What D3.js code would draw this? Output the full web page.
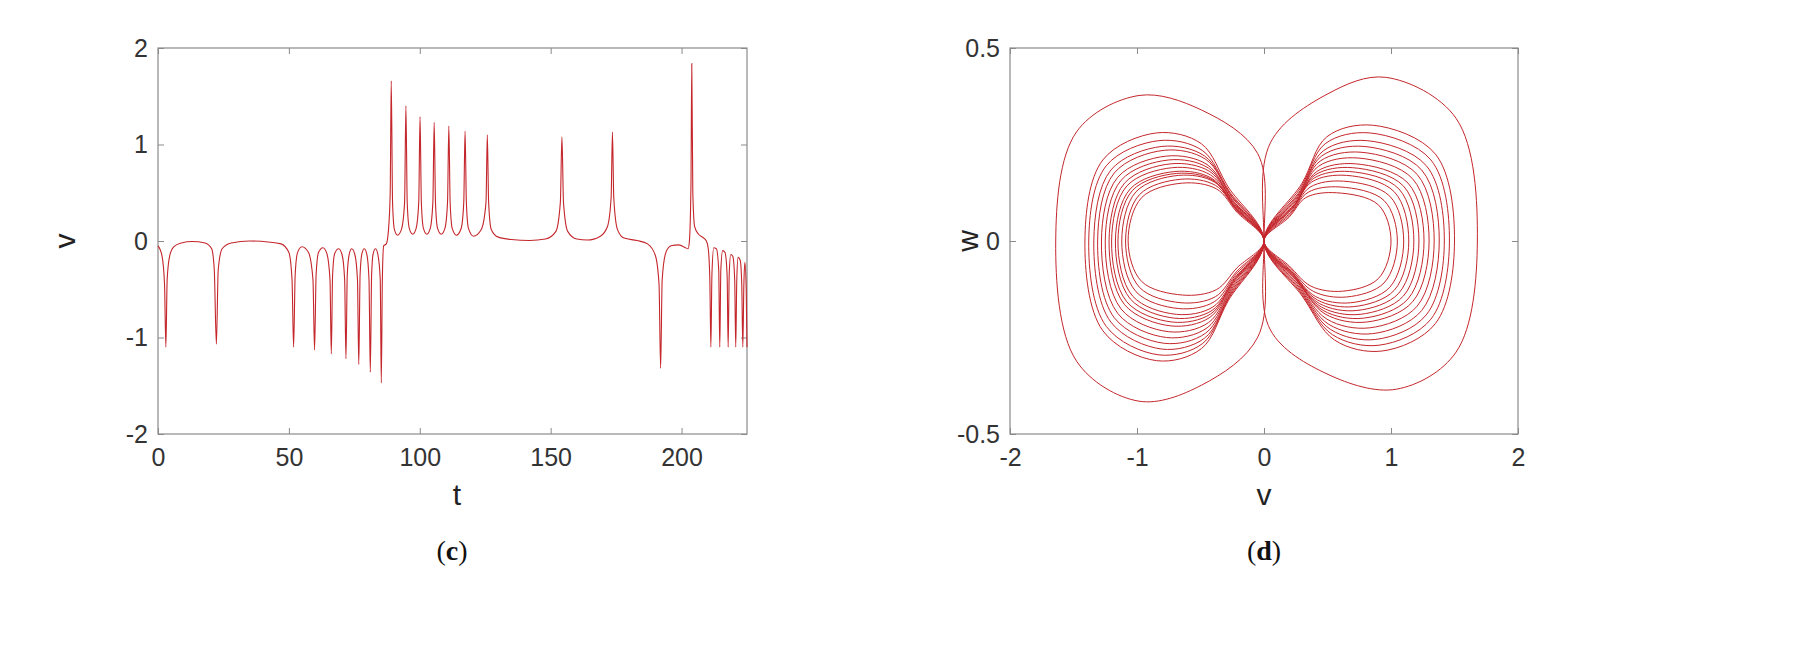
<!DOCTYPE html>
<html><head><meta charset="utf-8">
<script src="https://cdn.jsdelivr.net/npm/d3@7"></script>
<style>body{margin:0;background:#fff}</style></head>
<body><svg id="c" width="1800" height="671"></svg>
<script>
// Panel (c): time series v(t)
const tsT=[0,1.5,2.5,3,3.5,4.5,6,9,13,18,20.5,21.5,22.3,23,24.5,28,35,42,47,50,51.2,51.8,52.4,53.3,55,57.5,59.2,59.8,60.4,61.3,63,64.5,65.7,66.2,66.7,67.5,69,70.3,71.3,71.8,72.3,73.1,74,75.2,76.2,76.7,77.2,77.9,78.8,79.8,80.6,81.1,81.6,82.2,83.1,84,84.9,85.3,85.7,86.2,87.2,88,88.7,89.1,89.6,90.3,91.5,93,94.2,94.7,95.2,96,97.3,98.6,99.6,100.1,100.6,101.4,102.7,104,105,105.5,106,106.8,108.2,109.6,110.6,111.1,111.6,112.4,114,115.8,116.8,117.3,117.8,118.6,120.5,123.5,125.3,125.8,126.3,127.3,130,135,142,148,152,153.7,154.3,154.9,156.5,160,164,169,171.7,173.1,173.6,174.1,175.5,178,183,187,190,191.4,192,192.6,194,196,199,201.5,202.5,203,203.6,203.9,204.3,205,206.5,208,209.5,210.2,210.8,211.2,211.6,212.3,213.3,214.2,214.6,215,215.7,216.6,217.4,217.8,218.2,218.8,219.6,220.3,220.7,221.1,221.6,222.4,223,223.4,223.8,224.2,224.7,225];
const tsV=[-0.05,-0.15,-0.45,-1.1,-0.4,-0.15,-0.06,-0.02,-0.005,-0.02,-0.08,-0.3,-1.07,-0.3,-0.08,-0.02,0,-0.01,-0.03,-0.12,-0.4,-1.1,-0.35,-0.12,-0.06,-0.12,-0.4,-1.13,-0.35,-0.12,-0.07,-0.13,-0.4,-1.17,-0.35,-0.13,-0.08,-0.14,-0.4,-1.22,-0.35,-0.13,-0.08,-0.14,-0.4,-1.28,-0.35,-0.13,-0.08,-0.14,-0.4,-1.36,-0.35,-0.13,-0.08,-0.14,-0.4,-1.47,-0.4,-0.05,-0.03,0.1,0.5,1.66,0.4,0.12,0.06,0.12,0.4,1.4,0.4,0.13,0.07,0.13,0.4,1.29,0.4,0.13,0.07,0.13,0.4,1.23,0.4,0.13,0.07,0.13,0.4,1.19,0.4,0.13,0.06,0.13,0.4,1.14,0.4,0.13,0.05,0.12,0.4,1.1,0.4,0.12,0.04,0.015,0.005,0.02,0.1,0.4,1.08,0.4,0.1,0.02,0.01,0.05,0.15,0.45,1.13,0.45,0.12,0.03,0.005,-0.03,-0.15,-0.45,-1.32,-0.4,-0.12,-0.05,-0.04,-0.07,-0.08,0,0.6,1.84,0.5,0.15,0.07,0.04,0,-0.08,-0.4,-1.1,-0.35,-0.07,-0.08,-0.3,-1.1,-0.3,-0.1,-0.12,-0.35,-1.1,-0.35,-0.14,-0.16,-0.4,-1.1,-0.4,-0.17,-0.2,-0.45,-1.1,-0.45,-0.22,-0.5,-1.1];
const cXTicks=[0,50,100,150,200], cYTicks=[-2,-1,0,1,2];
// Panel (d): phase portrait lobes (extent, top w, bottom w)
const leftL=[-1.64,-1.41,-1.38,-1.34,-1.31,-1.28,-1.25,-1.22,-1.2,-1.17,-1.15,-1.12,-1.09,-1.07];
const leftTop=[0.377,0.28,0.26,0.245,0.235,0.22,0.21,0.2,0.19,0.18,0.175,0.17,0.16,0.15];
const leftBot=[-0.415,-0.31,-0.295,-0.28,-0.265,-0.25,-0.235,-0.22,-0.21,-0.2,-0.19,-0.175,-0.16,-0.14];
const rightR=[1.68,1.5,1.46,1.42,1.38,1.34,1.3,1.26,1.22,1.18,1.14,1.1,1.05,1.0];
const rightTop=[0.424,0.3,0.28,0.26,0.245,0.23,0.215,0.2,0.19,0.18,0.17,0.155,0.14,0.125];
const rightBot=[-0.384,-0.285,-0.27,-0.255,-0.24,-0.225,-0.21,-0.2,-0.19,-0.18,-0.17,-0.16,-0.145,-0.13];
const dXTicks=[-2,-1,0,1,2], dYTicks=[-0.5,0,0.5];

const svg=d3.select('#c');
const RED='#c4262b', AX='#8a8a8a', TXT='#333';
function frame(x,y,X,Y,xt,yt,xf,yf){
  const g=svg.append('g');
  const [x0,x1]=x.range(),[y0,y1]=y.range();
  g.append('rect').attr('x',x0).attr('y',y1).attr('width',x1-x0).attr('height',y0-y1).attr('fill','none').attr('stroke',AX).attr('stroke-width',1.2);
  const gx=g.append('g').attr('transform',`translate(0,${y0})`).call(d3.axisBottom(x).tickValues(xt).tickSize(-6).tickPadding(14).tickFormat(xf));
  const gy=g.append('g').attr('transform',`translate(${x0},0)`).call(d3.axisLeft(y).tickValues(yt).tickSize(-6).tickPadding(10).tickFormat(yf));
  g.append('g').attr('transform',`translate(0,${y1})`).call(d3.axisTop(x).tickValues(xt).tickSize(-6).tickFormat(''));
  g.append('g').attr('transform',`translate(${x1},0)`).call(d3.axisRight(y).tickValues(yt).tickSize(-6).tickFormat(''));
  g.selectAll('.domain').remove();
  g.selectAll('.tick line').attr('stroke',AX);
  g.selectAll('.tick text').attr('font-family','Liberation Sans, Arial').attr('font-size',25).attr('fill',TXT);
  return g;
}
// (c)
const xc=d3.scaleLinear().domain([0,225]).range([158,747]);
const yc=d3.scaleLinear().domain([-2,2]).range([434,48]);
frame(xc,yc,X=>0,0,cXTicks,cYTicks,d3.format('d'),d=>d<0?'-'+Math.abs(d):d);
const ts=tsT.map((t,i)=>[t,tsV[i]]);
svg.append('path').datum(ts).attr('fill','none').attr('stroke',RED).attr('stroke-width',1.1)
  .attr('d',d3.line().x(d=>xc(d[0])).y(d=>yc(d[1])).curve(d3.curveMonotoneX));
// (d)
const xd=d3.scaleLinear().domain([-2,2]).range([1010,1518]);
const yd=d3.scaleLinear().domain([-0.5,0.5]).range([434,48]);
frame(xd,yd,0,0,dXTicks,dYTicks,d=>d<0?'-'+Math.abs(d):d,d=>d<0?'-'+Math.abs(d):d);
const lobe=d3.line().x(d=>xd(d[0])).y(d=>yd(d[1])).curve(d3.curveCatmullRomClosed.alpha(0.5));
const g=svg.append('g').attr('fill','none').attr('stroke',RED).attr('stroke-width',1);
leftL.forEach((L,i)=>{const T=leftTop[i],B=leftBot[i],o=i===0;
  g.append('path').attr('d',lobe([[0,0],[o?0.03*L:0.2*L,o?0.6*T:0.5*T],[o?0.3*L:0.35*L,0.9*T],[0.6*L,T],[0.9*L,0.75*T],[L,0],[0.9*L,0.75*B],[0.6*L,B],[o?0.3*L:0.35*L,0.9*B],[o?0.03*L:0.2*L,o?0.6*B:0.5*B]]));});
rightR.forEach((R,i)=>{const T=rightTop[i],B=rightBot[i],o=i===0;
  g.append('path').attr('d',lobe([[0,0],[o?0.03*R:0.2*R,o?0.6*T:0.5*T],[o?0.3*R:0.33*R,0.9*T],[0.57*R,T],[0.9*R,0.75*T],[R,0],[0.9*R,0.75*B],[0.62*R,B],[o?0.3*R:0.37*R,0.9*B],[o?0.03*R:0.2*R,o?0.6*B:0.5*B]]));});
// labels
const lab=(x,y,t,rot)=>svg.append('text').attr('x',x).attr('y',y).attr('text-anchor','middle').attr('font-family','Liberation Sans, Arial').attr('font-size',30).attr('fill','#222').attr('transform',rot?`rotate(-90,${x},${y})`:null).text(t);
lab(757-300,505,'t');
lab(75,241,'v',true);
lab(1264,505,'v');
lab(978,241,'w',true);
const cap=(x,t)=>{const e=svg.append('text').attr('x',x).attr('y',560).attr('text-anchor','middle').attr('font-family','Liberation Serif, Times New Roman').attr('font-size',28).attr('fill','#111');
  e.append('tspan').text('(');e.append('tspan').attr('font-weight','bold').text(t);e.append('tspan').text(')');};
cap(452,'c');cap(1264,'d');
</script></body></html>
